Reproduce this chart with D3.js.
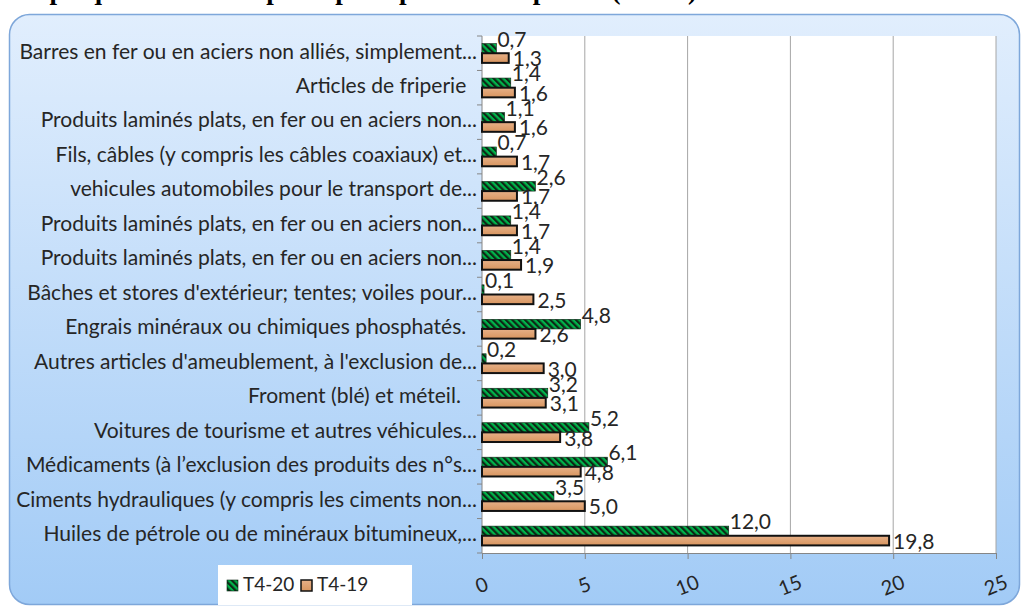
<!DOCTYPE html>
<html>
<head>
<meta charset="utf-8">
<script src="https://cdn.jsdelivr.net/npm/d3@7"></script>
<style>
  body { margin: 0; background: #fff; }
  text { font-family: Lato, "Open Sans", sans-serif; fill: #262626; }
</style>
</head>
<body>
<div id="chart"></div>
<script>
// chart values
const titleText = "Graphique 10 : Les 15 principaux produits importés (T4-20)"
const categories = [
  "Barres en fer ou en aciers non alliés, simplement...",
  "Articles de friperie\u00a0\u00a0",
  "Produits laminés plats, en fer ou en aciers non...",
  "Fils, câbles (y compris les câbles coaxiaux) et...",
  "vehicules automobiles pour le transport de...",
  "Produits laminés plats, en fer ou en aciers non...",
  "Produits laminés plats, en fer ou en aciers non...",
  "Bâches et stores d'extérieur; tentes; voiles pour...",
  "Engrais minéraux ou chimiques phosphatés.\u00a0\u00a0",
  "Autres articles d'ameublement, à l'exclusion de...",
  "Froment (blé) et méteil.\u00a0\u00a0\u00a0",
  "Voitures de tourisme et autres véhicules...",
  "Médicaments (à l’exclusion des produits des n°s...",
  "Ciments hydrauliques (y compris les ciments non...",
  "Huiles de pétrole ou de minéraux bitumineux,..."
]
const seriesNames = ["T4-20", "T4-19"]
const t420 = [0.7, 1.4, 1.1, 0.7, 2.6, 1.4, 1.4, 0.1, 4.8, 0.2, 3.2, 5.2, 6.1, 3.5, 12.0]
const t419 = [1.3, 1.6, 1.6, 1.7, 1.7, 1.7, 1.9, 2.5, 2.6, 3.0, 3.1, 3.8, 4.8, 5.0, 19.8]
const xTicks = [0, 5, 10, 15, 20, 25]

const width = 1022
const height = 608
const plot = { left: 482, right: 996, top: 36, bottom: 553 }
const fmt = v => v.toFixed(1).replace(".", ",")

const svg = d3.select("#chart")
  .append("svg")
  .attr("width", width)
  .attr("height", height)

const defs = svg.append("defs")

const bg = defs.append("linearGradient")
  .attr("id", "bg")
  .attr("x1", 0).attr("y1", 0).attr("x2", 0).attr("y2", 1)
bg.append("stop").attr("offset", "0%").attr("stop-color", "#e1eefd")
bg.append("stop").attr("offset", "100%").attr("stop-color", "#a2cbf6")

const orangeGrad = defs.append("linearGradient")
  .attr("id", "orangeGrad")
  .attr("x1", 0).attr("y1", 0).attr("x2", 0).attr("y2", 1)
orangeGrad.append("stop").attr("offset", "0%").attr("stop-color", "#e6b088")
orangeGrad.append("stop").attr("offset", "100%").attr("stop-color", "#d8955f")

// green / dark downward diagonal stripes
const pat = defs.append("pattern")
  .attr("id", "stripes")
  .attr("width", 4.5)
  .attr("height", 4.5)
  .attr("patternUnits", "userSpaceOnUse")
  .attr("patternTransform", "rotate(-45)")
pat.append("rect").attr("width", 4.5).attr("height", 4.5).attr("fill", "#00b34a")
pat.append("rect").attr("width", 2.2).attr("height", 4.5).attr("fill", "#0e2616")

// title, cut at the top of the picture
svg.append("text")
  .attr("x", 3)
  .attr("y", -1)
  .style("font-family", "'Liberation Serif', 'DejaVu Serif', serif")
  .style("font-weight", "bold")
  .style("font-size", "27px")
  .style("fill", "#000")
  .text(titleText)

// frame
svg.append("rect")
  .attr("x", 9.5)
  .attr("y", 14.5)
  .attr("width", 1010)
  .attr("height", 590)
  .attr("rx", 20)
  .attr("fill", "url(#bg)")
  .attr("stroke", "#7ea7da")
  .attr("stroke-width", 1.5)

// plot area
svg.append("rect")
  .attr("x", plot.left)
  .attr("y", plot.top)
  .attr("width", plot.right - plot.left)
  .attr("height", plot.bottom - plot.top)
  .attr("fill", "#fff")

const xScale = d3.scaleLinear()
  .domain([0, 25])
  .range([plot.left, plot.right])

const yScale = d3.scaleBand()
  .domain(d3.range(categories.length))
  .range([plot.top, plot.bottom])
  .paddingInner(0.44)
  .paddingOuter(0.22)

const step = yScale.step()
const barH = yScale.bandwidth() / 2

// gridlines
svg.append("g")
  .selectAll("line")
  .data(xTicks.slice(1))
  .enter()
  .append("line")
  .attr("x1", d => xScale(d))
  .attr("x2", d => xScale(d))
  .attr("y1", plot.top)
  .attr("y2", plot.bottom)
  .attr("stroke", "#a6a6a6")
  .attr("stroke-width", 1)

// x axis
const xAxis = d3.axisBottom(xScale)
  .tickValues(xTicks)
  .tickSizeInner(6)
  .tickSizeOuter(0)
  .tickFormat(d3.format("d"))

const gx = svg.append("g")
  .attr("transform", `translate(0, ${plot.bottom})`)
  .call(xAxis)
gx.select(".domain").attr("stroke", "#868686")
gx.selectAll(".tick line").attr("stroke", "#868686")
gx.selectAll(".tick text")
  .attr("y", 0)
  .attr("dy", 0)
  .attr("transform", "translate(0, 34) rotate(-22)")
  .attr("text-anchor", "middle")
  .attr("dominant-baseline", "middle")
  .style("font-size", "20px")
  .style("font-family", "Lato, sans-serif")
  .style("fill", "#262626")

// y axis line and ticks at the band edges
svg.append("line")
  .attr("x1", plot.left).attr("x2", plot.left)
  .attr("y1", plot.top).attr("y2", plot.bottom)
  .attr("stroke", "#868686")

svg.append("g")
  .selectAll("line")
  .data(d3.range(categories.length + 1))
  .enter()
  .append("line")
  .attr("x1", plot.left - 5)
  .attr("x2", plot.left)
  .attr("y1", d => plot.top + d * step)
  .attr("y2", d => plot.top + d * step)
  .attr("stroke", "#868686")

// category labels
const catFont = 21
const cats = svg.append("g")
  .selectAll("text")
  .data(categories)
  .enter()
  .append("text")
  .attr("x", plot.left - 5)
  .attr("y", (d, i) => yScale(i) + barH)
  .attr("text-anchor", "end")
  .attr("dominant-baseline", "middle")
  .style("font-size", catFont + "px")
  .style("white-space", "pre")
  .text(d => d)

// fit the longest label to the width it has in the picture
const longest = cats.nodes()[0].getComputedTextLength()
const fitFont = catFont * 458 / longest
cats.style("font-size", fitFont + "px")

// bars
const rows = categories.map((c, i) => ({ i: i, a: t420[i], b: t419[i] }))

svg.append("g")
  .selectAll("rect")
  .data(rows)
  .enter()
  .append("rect")
  .attr("x", xScale(0))
  .attr("y", d => yScale(d.i))
  .attr("width", d => xScale(d.a) - xScale(0))
  .attr("height", barH)
  .attr("fill", "url(#stripes)")
  .attr("stroke", "#0e2616")
  .attr("stroke-width", 0.6)

svg.append("g")
  .selectAll("rect")
  .data(rows)
  .enter()
  .append("rect")
  .attr("x", xScale(0))
  .attr("y", d => yScale(d.i) + barH)
  .attr("width", d => xScale(d.b) - xScale(0))
  .attr("height", barH)
  .attr("fill", "url(#orangeGrad)")
  .attr("stroke", "#111")
  .attr("stroke-width", 2)

// data labels
const valFont = 21
svg.append("g")
  .selectAll("text")
  .data(rows)
  .enter()
  .append("text")
  .attr("x", d => xScale(d.a) + 1)
  .attr("y", d => yScale(d.i) - 2)
  .attr("dominant-baseline", "middle")
  .style("font-size", valFont + "px")
  .text(d => fmt(d.a))

svg.append("g")
  .selectAll("text")
  .data(rows)
  .enter()
  .append("text")
  .attr("x", d => xScale(d.b) + 4)
  .attr("y", d => yScale(d.i) + barH * 1.5 + 3)
  .attr("dominant-baseline", "middle")
  .style("font-size", valFont + "px")
  .text(d => fmt(d.b))

// legend
const legend = svg.append("g").attr("id", "legend")
legend.append("rect")
  .attr("x", 218)
  .attr("y", 565)
  .attr("width", 194)
  .attr("height", 40)
  .attr("fill", "#fff")

const legendItems = [
  { name: seriesNames[0], fill: "url(#stripes)", stroke: "#0e2616", sw: 0.6, x: 227 },
  { name: seriesNames[1], fill: "url(#orangeGrad)", stroke: "#111", sw: 1.5, x: 301 }
]
legendItems.forEach(it => {
  legend.append("rect")
    .attr("x", it.x)
    .attr("y", 580)
    .attr("width", 11)
    .attr("height", 11)
    .attr("fill", it.fill)
    .attr("stroke", it.stroke)
    .attr("stroke-width", it.sw)
  legend.append("text")
    .attr("x", it.x + 16)
    .attr("y", 586)
    .attr("dominant-baseline", "middle")
    .style("font-size", "19px")
    .text(it.name)
})
</script>
</body>
</html>
